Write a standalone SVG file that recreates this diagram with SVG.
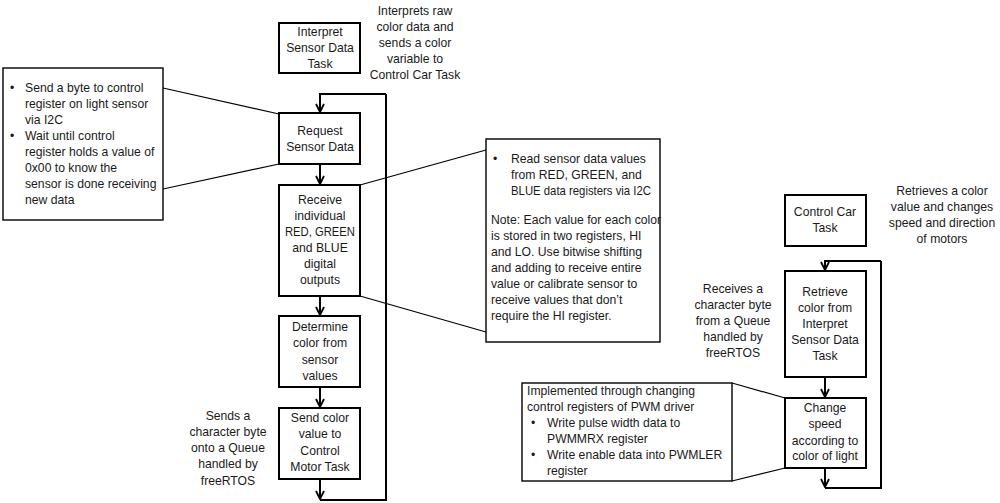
<svg xmlns="http://www.w3.org/2000/svg" width="1000" height="503" viewBox="0 0 1000 503">
<defs>
<marker id="ah" viewBox="0 0 10 10" refX="9" refY="5" markerWidth="10" markerHeight="10" markerUnits="userSpaceOnUse" orient="auto">
<path d="M1,1 L9,5 L1,9" fill="none" stroke="#000" stroke-width="1.8"/>
</marker>
</defs>
<style>
text{font-family:"Liberation Sans",Arial,sans-serif;font-size:12.2px;fill:#1a1a1a}
.c{text-anchor:middle}
.task{fill:#fff;stroke:#000;stroke-width:2}
.note{fill:#fff;stroke:#000;stroke-width:1.4}
.flow{fill:none;stroke:#000;stroke-width:2}
.lead{fill:none;stroke:#000;stroke-width:1.2}
</style>
<rect width="1000" height="503" fill="#fff"/>
<g id="connectors">
<path class="flow" d="M386,94 L320,94 L320,112" marker-end="url(#ah)"/>
<path class="flow" d="M320,164 L320,184" marker-end="url(#ah)"/>
<path class="flow" d="M320,296 L320,315" marker-end="url(#ah)"/>
<path class="flow" d="M320,387 L320,407" marker-end="url(#ah)"/>
<path class="flow" d="M320,479 L320,499" marker-end="url(#ah)"/>
<path class="flow" d="M320,500 L386,500 L386,94"/>
<path class="flow" d="M881,261 L825,261 L825,270" marker-end="url(#ah)"/>
<path class="flow" d="M825,377 L825,397" marker-end="url(#ah)"/>
<path class="flow" d="M825,468 L825,487" marker-end="url(#ah)"/>
<path class="flow" d="M825,488 L881,488 L881,261"/>
<path class="lead" d="M163,88 L279,114 M163,189 L279,164"/>
<path class="lead" d="M360,185 L486,150 M360,296 L486,332"/>
<path class="lead" d="M732,383 L785,398 M732,481 L785,468"/>
</g>
<g id="interpret-task">
<rect class="task" x="279" y="23" width="81" height="50"/>
<text class="c" x="320" y="36">Interpret</text>
<text class="c" x="320" y="52">Sensor Data</text>
<text class="c" x="320" y="68">Task</text>
</g>
<g id="interpret-desc">
<text class="c" x="415" y="15">Interprets raw</text>
<text class="c" x="415" y="31">color data and</text>
<text class="c" x="415" y="47">sends a color</text>
<text class="c" x="415" y="63">variable to</text>
<text class="c" x="415" y="79">Control Car Task</text>
</g>
<g id="left-note">
<rect class="note" x="3" y="68" width="160" height="152"/>
<text x="10" y="92">•</text>
<text x="25" y="92">Send a byte to control</text>
<text x="25" y="108">register on light sensor</text>
<text x="25" y="124">via I2C</text>
<text x="10" y="140">•</text>
<text x="25" y="140">Wait until control</text>
<text x="25" y="156">register holds a value of</text>
<text x="25" y="172">0x00 to know the</text>
<text x="25" y="188">sensor is done receiving</text>
<text x="25" y="204">new data</text>
</g>
<g id="request">
<rect class="task" x="279" y="113" width="81" height="51"/>
<text class="c" x="320" y="135">Request</text>
<text class="c" x="320" y="151">Sensor Data</text>
</g>
<g id="receive">
<rect class="task" x="279" y="185" width="81" height="111"/>
<text class="c" x="320" y="204">Receive</text>
<text class="c" x="320" y="220">individual</text>
<text class="c" x="320" y="236" textLength="70" lengthAdjust="spacingAndGlyphs">RED, GREEN</text>
<text class="c" x="320" y="252">and BLUE</text>
<text class="c" x="320" y="268">digital</text>
<text class="c" x="320" y="284">outputs</text>
</g>
<g id="determine">
<rect class="task" x="279" y="316" width="81" height="71"/>
<text class="c" x="320" y="331">Determine</text>
<text class="c" x="320" y="347">color from</text>
<text class="c" x="320" y="364">sensor</text>
<text class="c" x="320" y="380">values</text>
</g>
<g id="send">
<rect class="task" x="279" y="408" width="81" height="71"/>
<text class="c" x="320" y="422">Send color</text>
<text class="c" x="320" y="438">value to</text>
<text class="c" x="320" y="455">Control</text>
<text class="c" x="320" y="471">Motor Task</text>
</g>
<g id="send-desc">
<text class="c" x="228" y="420">Sends a</text>
<text class="c" x="228" y="436">character byte</text>
<text class="c" x="228" y="452">onto a Queue</text>
<text class="c" x="228" y="468">handled by</text>
<text class="c" x="228" y="485">freeRTOS</text>
</g>
<g id="middle-note">
<rect class="note" x="486" y="139" width="174" height="203"/>
<text x="493" y="163">•</text>
<text x="511" y="163">Read sensor data values</text>
<text x="511" y="179">from RED, GREEN, and</text>
<text x="511" y="195" textLength="140" lengthAdjust="spacingAndGlyphs">BLUE data registers via I2C</text>
<text x="491" y="224">Note: Each value for each color</text>
<text x="491" y="240">is stored in two registers, HI</text>
<text x="491" y="256">and LO. Use bitwise shifting</text>
<text x="491" y="272">and adding to receive entire</text>
<text x="491" y="288">value or calibrate sensor to</text>
<text x="491" y="304">receive values that don’t</text>
<text x="491" y="320">require the HI register.</text>
</g>
<g id="control-task">
<rect class="task" x="785" y="195" width="81" height="51"/>
<text class="c" x="825" y="216">Control Car</text>
<text class="c" x="825" y="232">Task</text>
</g>
<g id="control-desc">
<text class="c" x="942" y="195">Retrieves a color</text>
<text class="c" x="942" y="211">value and changes</text>
<text class="c" x="942" y="227">speed and direction</text>
<text class="c" x="942" y="243">of motors</text>
</g>
<g id="retrieve">
<rect class="task" x="785" y="271" width="81" height="106"/>
<text class="c" x="825" y="296">Retrieve</text>
<text class="c" x="825" y="312">color from</text>
<text class="c" x="825" y="328">Interpret</text>
<text class="c" x="825" y="344">Sensor Data</text>
<text class="c" x="825" y="360">Task</text>
</g>
<g id="receive-desc">
<text class="c" x="733" y="293">Receives a</text>
<text class="c" x="733" y="309">character byte</text>
<text class="c" x="733" y="325">from a Queue</text>
<text class="c" x="733" y="341">handled by</text>
<text class="c" x="733" y="357">freeRTOS</text>
</g>
<g id="change">
<rect class="task" x="785" y="398" width="81" height="70"/>
<text class="c" x="825" y="412">Change</text>
<text class="c" x="825" y="428">speed</text>
<text class="c" x="825" y="445">according to</text>
<text class="c" x="825" y="460">color of light</text>
</g>
<g id="pwm-note">
<rect class="note" x="522" y="383" width="210" height="98"/>
<text x="527" y="395">Implemented through changing</text>
<text x="527" y="411">control registers of PWM driver</text>
<text x="531" y="427">•</text>
<text x="547" y="427">Write pulse width data to</text>
<text x="547" y="443">PWMMRX register</text>
<text x="531" y="459">•</text>
<text x="547" y="459">Write enable data into PWMLER</text>
<text x="547" y="475">register</text>
</g>
</svg>
